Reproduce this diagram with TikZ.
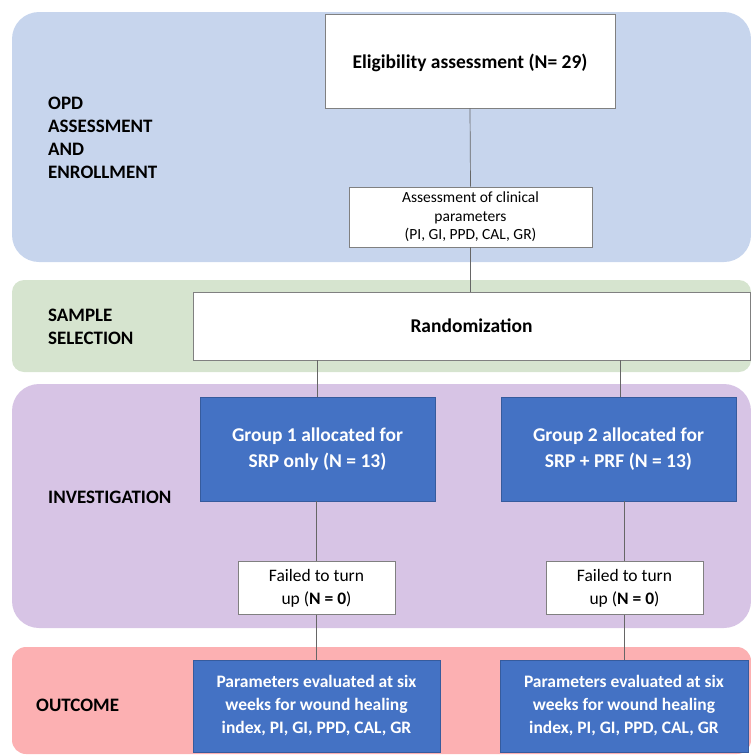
\documentclass[tikz,border=0pt]{standalone}
\usepackage{fontspec}
\setmainfont{Carlito}
\usetikzlibrary{positioning}

\definecolor{bandblue}{RGB}{199,213,237}
\definecolor{bandgreen}{RGB}{214,228,207}
\definecolor{bandpurple}{RGB}{215,196,229}
\definecolor{bandred}{RGB}{252,176,178}
\definecolor{boxblue}{RGB}{68,114,196}

\tikzset{
  whitebox/.style={draw=gray, fill=white, line width=0.6pt, align=center, inner sep=0pt},
  bluebox/.style={draw=boxblue!80!black, fill=boxblue, line width=0.6pt, text=white, align=center, inner sep=0pt},
  lanelabel/.style={anchor=west, align=left, inner sep=0pt, font=\bfseries\fontsize{19}{23}\selectfont},
  link/.style={draw=gray!80!black, line width=0.7pt}
}

\begin{document}
\begin{tikzpicture}[x=1pt, y=-1pt]
        \useasboundingbox (0,0) rectangle (751,756);

        % Baender
        \fill[bandblue, rounded corners=27pt] (12,12) rectangle (751,262);
        \fill[bandgreen, rounded corners=12pt] (12,280) rectangle (751,372);
        \fill[bandpurple, rounded corners=27pt] (12,384) rectangle (751,628);
        \fill[bandred, rounded corners=14pt] (12,647) rectangle (751,754);

        % Beschriftung der Baender
        \node[lanelabel] (opd) at (48,138) {OPD\\ASSESSMENT\\AND\\ENROLLMENT};
        \node[lanelabel] (sample) at (48,326.5) {SAMPLE\\SELECTION};
        \node[lanelabel] (invest) at (48,497.5) {INVESTIGATION};
        \node[lanelabel] (outcome) at (36,705.5) {OUTCOME};

        % Eignung
        \node[whitebox, minimum width=290pt, minimum height=94pt,
              text height=20pt, text depth=5pt,
              font=\bfseries\fontsize{19.5}{23}\selectfont] (elig) at (470,61)
              {Eligibility assessment (N= 29)};
        \node[whitebox, minimum width=243pt, minimum height=60pt,
              font=\fontsize{15.5}{18.5}\selectfont] (assess) at (470.5,217)
              {Assessment of clinical\\parameters\\(PI, GI, PPD, CAL, GR)};

        % Randomisierung
        \node[whitebox, minimum width=557pt, minimum height=68pt,
              font=\bfseries\fontsize{19.5}{23}\selectfont] (random) at (471.5,326)
              {Randomization};

        % Gruppen
        \node[bluebox, minimum width=235pt, minimum height=104pt,
              font=\bfseries\fontsize{19.5}{26}\selectfont] (group1) at (317.5,449)
              {Group 1 allocated for\\SRP only (N = 13)};
        \node[bluebox, minimum width=235pt, minimum height=104pt,
              font=\bfseries\fontsize{19.5}{26}\selectfont] (group2) at (618.5,449)
              {Group 2 allocated for\\SRP + PRF (N = 13)};

        % Ausfaelle
        \node[whitebox, minimum width=157pt, minimum height=53pt,
              font=\fontsize{17.5}{23}\selectfont] (fail1) at (316.5,588)
              {Failed to turn\\up (\textbf{N = 0})};
        \node[whitebox, minimum width=157pt, minimum height=53pt,
              font=\fontsize{17.5}{23}\selectfont] (fail2) at (624.5,588)
              {Failed to turn\\up (\textbf{N = 0})};

        % Ergebnis
        \node[bluebox, minimum width=247pt, minimum height=92pt,
              font=\bfseries\fontsize{17.5}{23}\selectfont] (result1) at (316.5,706)
              {Parameters evaluated at six\\weeks for wound healing\\index, PI, GI, PPD, CAL, GR};
        \node[bluebox, minimum width=248pt, minimum height=92pt,
              font=\bfseries\fontsize{17.5}{23}\selectfont] (result2) at (624,706)
              {Parameters evaluated at six\\weeks for wound healing\\index, PI, GI, PPD, CAL, GR};

        % Verbindungen
        \draw[link] (elig.south) -- (assess.north);
        \draw[link] (assess.south) -- (assess.south |- random.north);
        \draw[link] (random.south -| group1.north) -- (group1.north);
        \draw[link] (random.south -| 620,0) -- (group2.north -| 620,0);
        \draw[link] (fail1.north |- group1.south) -- (fail1.north);
        \draw[link] (fail2.north |- group2.south) -- (fail2.north);
        \draw[link] (fail1.south) -- (fail1.south |- result1.north);
        \draw[link] (fail2.south) -- (fail2.south |- result2.north);

    \end{tikzpicture}
\end{document}
